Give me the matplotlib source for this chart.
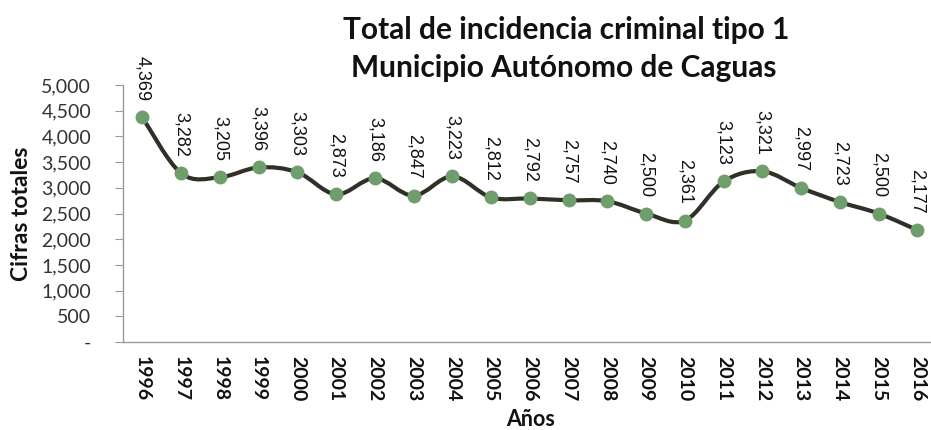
import numpy as np
import matplotlib
matplotlib.use("Agg")
import matplotlib.pyplot as plt
from matplotlib.path import Path
from matplotlib.patches import PathPatch
from matplotlib.ticker import FuncFormatter

plt.rcParams['font.family'] = ['Lato', 'DejaVu Sans']

# Datos
anios = ['1996', '1997', '1998', '1999', '2000', '2001', '2002', '2003', '2004', '2005', '2006',
         '2007', '2008', '2009', '2010', '2011', '2012', '2013', '2014', '2015', '2016']
cifras = [4369, 3282, 3205, 3396, 3303, 2873, 3186, 2847, 3223, 2812, 2792,
          2757, 2740, 2500, 2361, 3123, 3321, 2997, 2723, 2500, 2177]

COLOR_LINEA = '#2f3027'
COLOR_MARCA = '#6f9e6c'

fig = plt.figure(figsize=(9.31, 4.30), dpi=100)
ax = fig.add_axes([123 / 931, 1 - 342 / 430, (931 - 123) / 931, (342 - 85) / 430])

x = np.arange(len(cifras))
y = np.array(cifras, dtype=float)

# Linea suavizada estilo Excel (Bezier tipo Catmull-Rom)
verts = [(x[0], y[0])]
codes = [Path.MOVETO]
n = len(x)
for i in range(n - 1):
    p0 = (x[max(i - 1, 0)], y[max(i - 1, 0)])
    p1 = (x[i], y[i])
    p2 = (x[i + 1], y[i + 1])
    p3 = (x[min(i + 2, n - 1)], y[min(i + 2, n - 1)])
    c1 = (p1[0] + (p2[0] - p0[0]) / 6, p1[1] + (p2[1] - p0[1]) / 6)
    c2 = (p2[0] - (p3[0] - p1[0]) / 6, p2[1] - (p3[1] - p1[1]) / 6)
    verts += [c1, c2, p2]
    codes += [Path.CURVE4] * 3
ax.add_patch(PathPatch(Path(verts, codes), facecolor='none', edgecolor=COLOR_LINEA,
                       linewidth=3, zorder=2, capstyle='round', joinstyle='round'))
ax.plot(x, y, linestyle='none', marker='o', markersize=9, color=COLOR_MARCA, zorder=3)

for xi, yi in zip(x, y):
    ax.annotate(f'{int(yi):,}', xy=(xi, yi), xytext=(0, 12), textcoords='offset points',
                rotation=270, ha='center', va='bottom', fontsize=13, color='#111111',
                family=['Liberation Sans'], annotation_clip=False)

ax.set_xlim(-0.5, 20.35)
ax.set_ylim(0, 5000)
ax.set_yticks(np.arange(0, 5001, 500))
ax.yaxis.set_major_formatter(FuncFormatter(lambda v, p: '-' if v == 0 else f'{int(v):,}'))
ax.set_xticks(x)
ax.set_xticklabels(anios, rotation=270, fontweight='bold', fontsize=14)
ax.tick_params(axis='x', length=0, pad=10, colors='#111111')
ax.tick_params(axis='y', length=6, color='#999999', labelsize=14, labelcolor='#333333', pad=17)

for s in ['top', 'right']:
    ax.spines[s].set_visible(False)
for s in ['left', 'bottom']:
    ax.spines[s].set_color('#999999')
    ax.spines[s].set_linewidth(1)

fig.text(22 / 931, 1 - 214 / 430, 'Cifras totales', rotation=90, ha='center', va='center',
         fontsize=16.5, fontweight='bold', color='#111111')
fig.text(531 / 931, 1 - 419 / 430, 'Años', ha='center', va='center',
         fontsize=15.5, fontweight='bold', color='#111111')
fig.text(566 / 931, 1 - 30 / 430, 'Total de incidencia criminal tipo 1', ha='center', va='center',
         fontsize=21.5, fontweight='bold', color='#111111')
fig.text(564 / 931, 1 - 68 / 430, 'Municipio Autónomo de Caguas', ha='center', va='center',
         fontsize=21.5, fontweight='bold', color='#111111')

fig.savefig('out.png', dpi=100, facecolor='white')
